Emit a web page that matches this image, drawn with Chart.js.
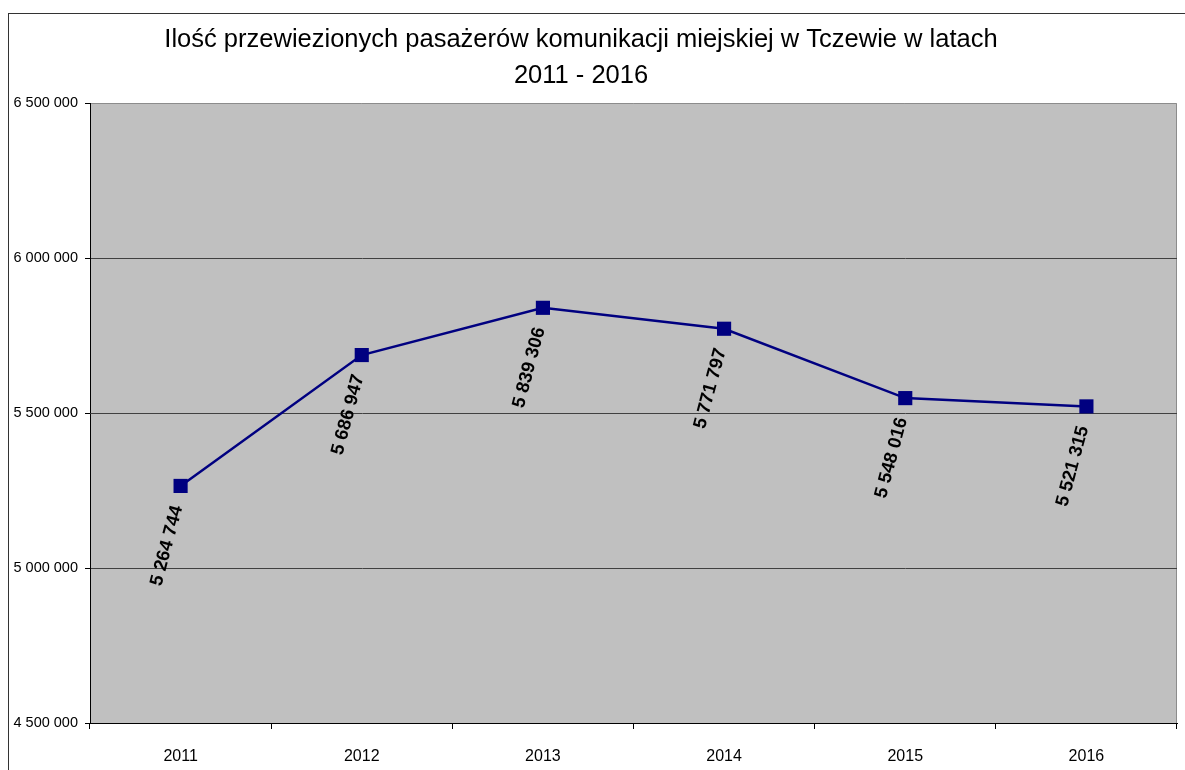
<!DOCTYPE html>
<html>
<head>
<meta charset="utf-8">
<script src="https://cdn.jsdelivr.net/npm/chart.js@4.4.1/dist/chart.umd.min.js"></script>
<style>
    body { margin: 0; background: #fff; overflow: hidden; }
    #frame { position: absolute; left: 8px; top: 13px; width: 1200px; height: 800px; border: 1px solid #333; }
    #chart { position: absolute; left: 0; top: 0; }
</style>
</head>
<body>
<div id="frame"></div>
<canvas id="chart" width="1185" height="770"></canvas>
<script>
// Dane
const years = ['2011', '2012', '2013', '2014', '2015', '2016'];
const passengers = [5264744, 5686947, 5839306, 5771797, 5548016, 5521315];
const titleLines = ['Ilość przewiezionych pasażerów komunikacji miejskiej w Tczewie w latach', '2011 - 2016'];
const yMin = 4500000;
const yMax = 6500000;
const yStep = 500000;

function formatNumber(v) {
    return String(v).replace(/\B(?=(\d{3})+(?!\d))/g, ' ');
}

// Tło obszaru wykresu + tytuł
const backgroundPlugin = {
    id: 'plotBackground',
    beforeDraw(chart) {
        const { ctx, chartArea: a } = chart;
        ctx.save();
        ctx.fillStyle = '#c0c0c0';
        ctx.fillRect(a.left, a.top, a.right - a.left, a.bottom - a.top);
        ctx.strokeStyle = '#8c8c8c';
        ctx.lineWidth = 1;
        ctx.beginPath();
        ctx.moveTo(a.left, a.top + 0.5);
        ctx.lineTo(a.right - 0.5, a.top + 0.5);
        ctx.lineTo(a.right - 0.5, a.bottom);
        ctx.stroke();
        ctx.restore();
    },
    afterDraw(chart) {
        const { ctx } = chart;
        ctx.save();
        ctx.fillStyle = '#000';
        ctx.font = '25.5px "Liberation Sans", Arial, sans-serif';
        ctx.textAlign = 'center';
        ctx.textBaseline = 'middle';
        ctx.fillText(titleLines[0], 581, 40);
        ctx.fillText(titleLines[1], 581, 76);
        ctx.restore();
    }
};

// Etykiety wartości (obrócone)
const valueLabelsPlugin = {
    id: 'valueLabels',
    afterDatasetsDraw(chart) {
        const { ctx } = chart;
        const meta = chart.getDatasetMeta(0);
        ctx.save();
        ctx.fillStyle = '#000';
        ctx.font = 'bold 18.5px "Liberation Sans", Arial, sans-serif';
        ctx.textAlign = 'right';
        ctx.textBaseline = 'middle';
        meta.data.forEach((pt, i) => {
            ctx.save();
            ctx.translate(pt.x - 3, pt.y + 20);
            ctx.rotate(-75 * Math.PI / 180);
            ctx.fillText(formatNumber(passengers[i]), 0, 0);
            ctx.restore();
        });
        ctx.restore();
    }
};

const chart = new Chart(document.getElementById('chart'), {
    type: 'line',
    data: {
        labels: years,
        datasets: [{
            data: passengers,
            borderColor: '#000080',
            backgroundColor: '#000080',
            borderWidth: 2.5,
            tension: 0,
            pointStyle: 'rect',
            pointRadius: 10,
            pointBorderWidth: 0,
            pointBackgroundColor: '#000080'
        }]
    },
    options: {
        responsive: false,
        animation: false,
        layout: { autoPadding: false, padding: { top: 103, left: 0, right: 8, bottom: 0 } },
        scales: {
            x: {
                offset: true,
                grid: { offset: true, drawOnChartArea: false, tickLength: 6, tickColor: '#000' },
                border: { color: '#000', width: 1 },
                ticks: { color: '#000', padding: 18, font: { family: '"Liberation Sans", Arial, sans-serif', size: 16 } },
                afterFit(scale) { scale.height = 47; }
            },
            y: {
                min: yMin,
                max: yMax,
                grid: {
                    color: (c) => c.tick && c.tick.value === yMax ? 'rgba(0,0,0,0)' : '#404040',
                    tickColor: '#000',
                    tickLength: 5
                },
                border: { color: '#000', width: 1 },
                ticks: {
                    stepSize: yStep,
                    color: '#000',
                    padding: 7,
                    font: { family: '"Liberation Sans", Arial, sans-serif', size: 14.5 },
                    callback: (v) => formatNumber(v)
                },
                afterFit(scale) { scale.width = 90; }
            }
        },
        plugins: {
            legend: { display: false },
            title: { display: false },
            tooltip: { enabled: false }
        }
    },
    plugins: [backgroundPlugin, valueLabelsPlugin]
});
</script>
</body>
</html>
